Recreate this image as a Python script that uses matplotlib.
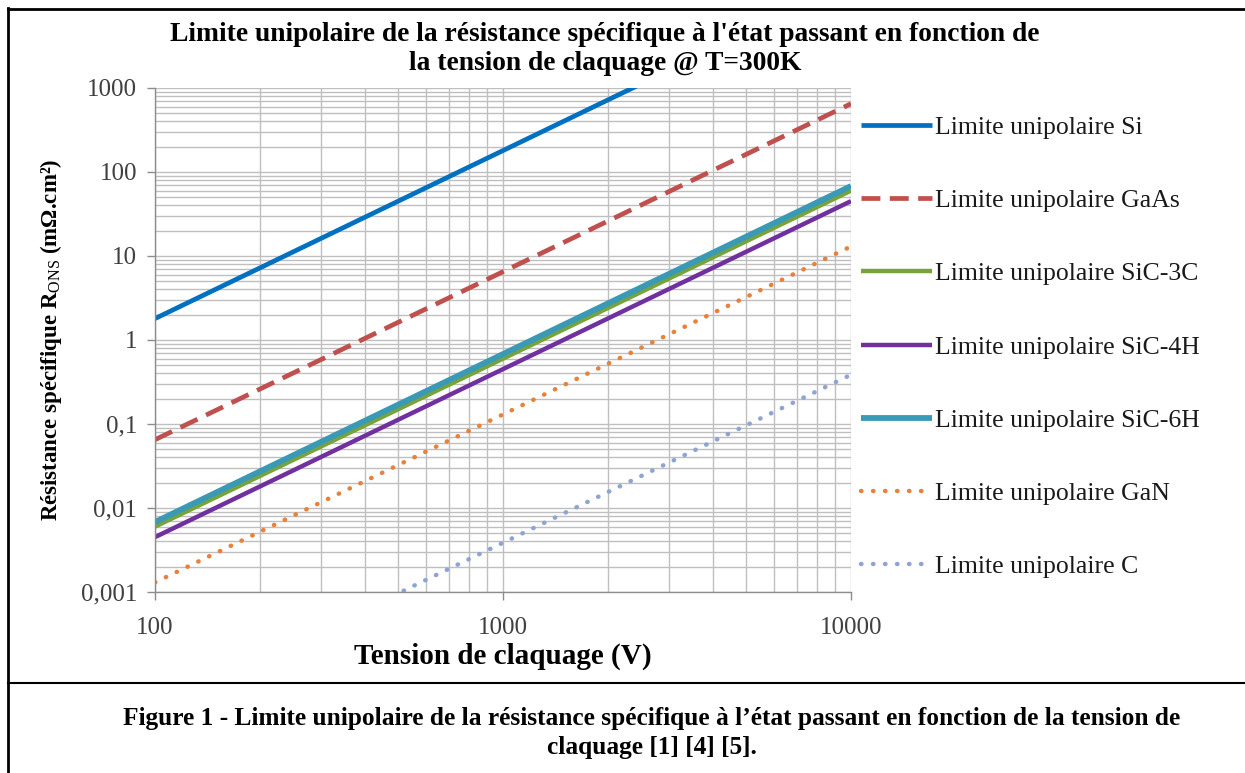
import matplotlib
matplotlib.use("Agg")
import matplotlib.pyplot as plt
from matplotlib.lines import Line2D
from matplotlib.ticker import LogLocator, NullFormatter, FixedLocator

plt.rcParams['font.family'] = ['Liberation Serif', 'DejaVu Serif']
plt.rcParams['mathtext.fontset'] = 'custom'
plt.rcParams['mathtext.rm'] = 'Liberation Serif'
plt.rcParams['mathtext.bf'] = 'Liberation Serif:bold'
plt.rcParams['mathtext.it'] = 'Liberation Serif:italic'

# ---- data ----
voltages = [100, 1000, 10000]
r_si = [1.8, 180, 18000]
r_gaas = [0.065, 6.5, 650]
r_sic3c = [0.006, 0.6, 60]
r_sic4h = [0.0045, 0.45, 45]
r_sic6h = [0.0068, 0.68, 68]
r_gan = [0.0013, 0.13, 13]
r_c = [3.86e-5, 0.00386, 0.386]

labels = ["Limite unipolaire Si", "Limite unipolaire GaAs", "Limite unipolaire SiC-3C",
          "Limite unipolaire SiC-4H", "Limite unipolaire SiC-6H", "Limite unipolaire GaN",
          "Limite unipolaire C"]
y_ticks = [0.001, 0.01, 0.1, 1, 10, 100, 1000]
y_ticklabels = ["0,001", "0,01", "0,1", "1", "10", "100", "1000"]
x_ticks = [100, 1000, 10000]
x_ticklabels = ["100", "1000", "10000"]

W, H = 1245, 773
fig = plt.figure(figsize=(W / 100, H / 100), dpi=100)
ax = fig.add_axes([155 / W, 1 - 592 / H, (851 - 155) / W, (592 - 88) / H])

dot = (0, (0.1, 2.6))
series = [
    (r_si, dict(color='#0070C0', lw=3.4, ls='-')),
    (r_gaas, dict(color='#C0504D', lw=3.4, ls=(0, (4, 2)))),
    (r_sic3c, dict(color='#77A33A', lw=3.2, ls='-')),
    (r_sic4h, dict(color='#7030A0', lw=3.2, ls='-')),
    (r_sic6h, dict(color='#3A9AB5', lw=4.2, ls='-')),
    (r_gan, dict(color='#E8813A', lw=3.2, ls=dot, dash_capstyle='round')),
    (r_c, dict(color='#8EA4D2', lw=3.2, ls=dot, dash_capstyle='round')),
]
handles = []
for (vals, st), lab in zip(series, labels):
    h, = ax.plot(voltages, vals, label=lab, solid_capstyle='butt', **st)
    handles.append(h)

ax.set_xscale('log')
ax.set_yscale('log')
ax.set_xlim(100, 10000)
ax.set_ylim(0.001, 1000)

ax.xaxis.set_major_locator(FixedLocator(x_ticks))
ax.set_xticklabels(x_ticklabels)
ax.yaxis.set_major_locator(FixedLocator(y_ticks))
ax.set_yticklabels(y_ticklabels)
ax.xaxis.set_minor_locator(LogLocator(base=10, subs=range(2, 10)))
ax.yaxis.set_minor_locator(LogLocator(base=10, subs=range(2, 10)))
ax.xaxis.set_minor_formatter(NullFormatter())
ax.yaxis.set_minor_formatter(NullFormatter())

ax.grid(True, which='both', color='#BFBFBF', lw=1.0)
ax.set_axisbelow(True)
for s in ['top', 'right']:
    ax.spines[s].set_visible(False)
for s in ['left', 'bottom']:
    ax.spines[s].set_color('#8C8C8C')
    ax.spines[s].set_linewidth(1.0)
ax.tick_params(which='major', length=6, width=1.0, color='#8C8C8C',
               labelsize=18, labelcolor='#404040')
ax.tick_params(axis='y', which='major', pad=7)
ax.tick_params(axis='x', which='major', pad=12)
ax.tick_params(which='minor', length=0)

ax.set_xlabel("Tension de claquage (V)", fontsize=21, fontweight='bold', labelpad=3)
ax.set_ylabel(r"Résistance spécifique R$_{\mathrm{ONS}}$ (mΩ.cm²)", fontsize=16.5,
              fontweight='bold', labelpad=12)

fig.text(605 / W, 1 - 49 / H,
         "Limite unipolaire de la résistance spécifique à l'état passant en fonction de\n"
         "la tension de claquage @ T=300K",
         ha='center', va='center', fontsize=19.8, fontweight='bold', linespacing=1.25)

leg = fig.legend(handles=handles, labels=labels, loc='upper left',
                 bbox_to_anchor=(851 / W, 1 - 106 / H), frameon=False,
                 fontsize=18.5, handlelength=2.75, handletextpad=0.1,
                 labelspacing=1.95, borderaxespad=0)
for t in leg.get_texts():
    t.set_color('#1a1a1a')

fig.text(652 / W, 1 - 733 / H,
         "Figure 1 - Limite unipolaire de la résistance spécifique à l’état passant en fonction de la tension de\n"
         "claquage [1] [4] [5].",
         ha='center', va='center', fontsize=18.3, fontweight='bold', linespacing=1.3)

# borders
fig.add_artist(Line2D([8 / W, 8 / W], [0, 1 - 8 / H], color='black', lw=2.0))
fig.add_artist(Line2D([8 / W, 1], [1 - 9 / H, 1 - 9 / H], color='black', lw=2.0))
fig.add_artist(Line2D([8 / W, 1], [1 - 683 / H, 1 - 683 / H], color='black', lw=1.5))

fig.savefig("out.png", dpi=100)
